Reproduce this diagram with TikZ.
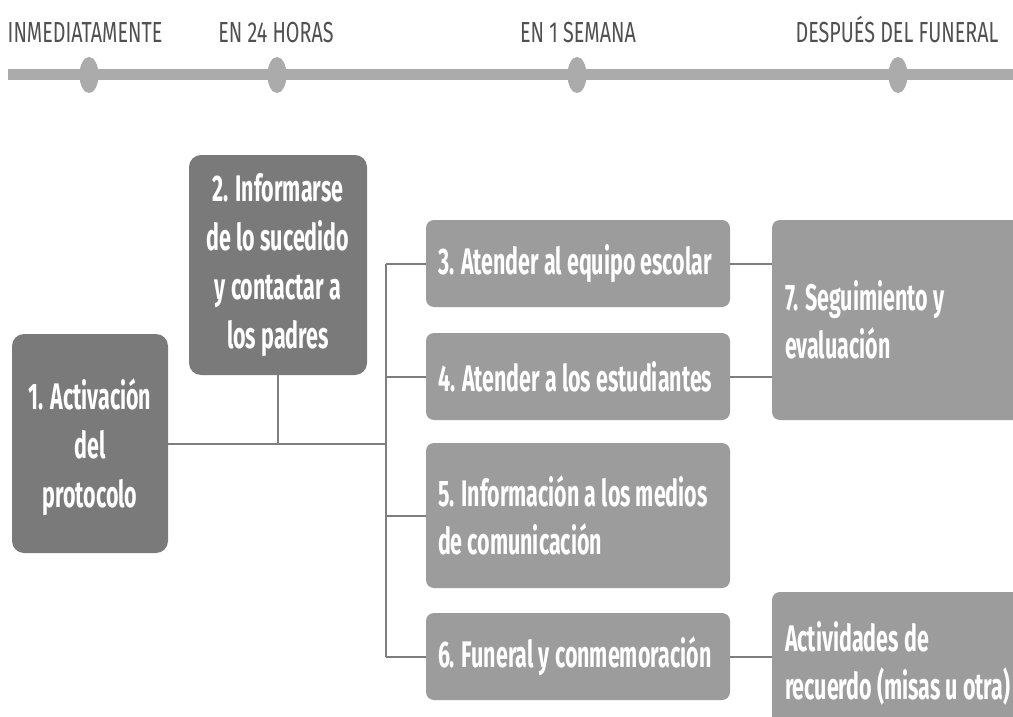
\documentclass[tikz,border=0pt]{standalone}
\usepackage{fontspec}
\usetikzlibrary{shapes.geometric}
\setmainfont{Fira Sans}[FakeStretch=0.58]
\newfontfamily\tlfont{Fira Sans}[FakeStretch=0.68]
\newcommand\tline[1]{\mbox{\spaceskip=0pt\xspaceskip=0pt #1}}
\definecolor{boxdark}{HTML}{7A7A7A}
\definecolor{boxlight}{HTML}{9C9C9C}
\definecolor{linegray}{HTML}{7E7E7E}
\definecolor{barcol}{HTML}{ABABAB}
\definecolor{tltext}{HTML}{505050}
\begin{document}
\begin{tikzpicture}[x=1pt,y=-1pt,
  dark/.style={fill=boxdark, rounded corners=12pt, text=white,
    font=\bfseries\fontsize{37}{49}\selectfont, align=center, inner sep=0pt},
  light/.style={fill=boxlight, rounded corners=8pt, text=white,
    font=\bfseries\fontsize{37}{48}\selectfont, align=left,
    text width=280pt, inner xsep=12pt, inner ysep=0pt, minimum width=304pt},
  conn/.style={draw=linegray, line width=2pt},
  tl/.style={font=\tlfont\fontsize{29}{34}\selectfont, text=tltext, anchor=base, inner sep=0pt},
  dot/.style={ellipse, fill=barcol, minimum width=19pt, minimum height=36pt, inner sep=0pt}
]
\clip (0,0) rectangle (1013,717);
\fill[white] (0,0) rectangle (1013,717);
% timeline
\coordinate (tlstart) at (8,75);
\coordinate (tlend) at (1013,75);
\draw[barcol, line width=11pt] (tlstart) -- (tlend);
\node[dot] (d1) at (89,75) {};
\node[dot] (d2) at (277,75) {};
\node[dot] (d3) at (577,75) {};
\node[dot] (d4) at (898,75) {};
\node[tl] (l1) at (85,43) {INMEDIATAMENTE};
\node[tl] (l2) at (276,43) {EN 24 HORAS};
\node[tl] (l3) at (578,43) {EN 1 SEMANA};
\node[tl] (l4) at (897,43) {DESPUÉS DEL FUNERAL};
% boxes
\node[dark, minimum width=156pt, minimum height=219pt, text depth=0pt] (b1) at (90,443.5) {\raisebox{-5pt}{}1. Activación\\del\\protocolo};
\node[dark, minimum width=178pt, minimum height=220pt] (b2) at (278,265) {2. Informarse\\de lo sucedido\\y contactar a\\los padres};
\node[light, minimum height=87pt] (b3) at (578,263.5) {\tline{3. Atender al equipo escolar}};
\node[light, minimum height=87pt] (b4) at (578,376.5) {\tline{4. Atender a los estudiantes}};
\node[light, minimum height=145pt] (b5) at (578,515.5) {\tline{5. Información a los medios}\\\tline{de comunicación}};
\node[light, minimum height=87pt] (b6) at (578,656.5) {\tline{6. Funeral y conmemoración}};
\node[light, text width=232pt, inner xsep=13pt, minimum width=258pt, minimum height=200pt] (b7) at (901,320) {\tline{7. Seguimiento y}\\\tline{evaluación}};
\node[light, text width=232pt, inner xsep=13pt, minimum width=258pt, minimum height=142pt] (b8) at (901,663) {\tline{Actividades de}\\\tline{recuerdo (misas u otra)}};
% connectors
\coordinate (ttop) at (386,263.5);
\coordinate (tbot) at (386,656.5);
\coordinate (tj) at (386,443.5);
\draw[conn] (ttop) -- (tbot);
\draw[conn] (b1.east |- tj) -- (tj);
\draw[conn] (b2.south) -- (b2.south |- tj);
\draw[conn] (ttop) -- (b3.west);
\draw[conn] (b4.west -| ttop) -- (b4.west);
\draw[conn] (b5.west -| ttop) -- (b5.west);
\draw[conn] (tbot) -- (b6.west);
\draw[conn] (b3.east) -- (b3.east -| b7.west);
\draw[conn] (b4.east) -- (b4.east -| b7.west);
\draw[conn] (b6.east) -- (b6.east -| b8.west);
\end{tikzpicture}
\end{document}
